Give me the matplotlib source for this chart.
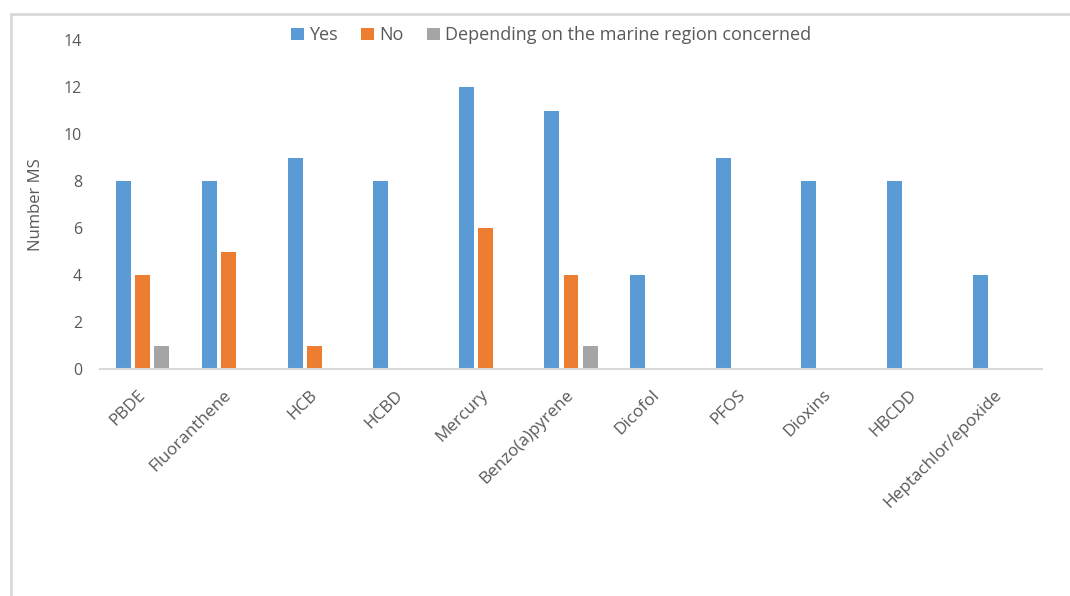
import matplotlib.pyplot as plt
import matplotlib.transforms as mtransforms
from matplotlib.lines import Line2D
import numpy as np

substances = ['PBDE', 'Fluoranthene', 'HCB', 'HCBD', 'Mercury', 'Benzo(a)pyrene',
              'Dicofol', 'PFOS', 'Dioxins', 'HBCDD', 'Heptachlor/epoxide']
yes = [8, 8, 9, 8, 12, 11, 4, 9, 8, 8, 4]
no = [4, 5, 1, 0, 6, 4, 0, 0, 0, 0, 0]
depending = [1, 0, 0, 0, 0, 1, 0, 0, 0, 0, 0]
series_names = ['Yes', 'No', 'Depending on the marine region concerned']
colors = ['#5b9bd5', '#ed7d31', '#a5a5a5']

plt.rcParams['font.family'] = ['Open Sans', 'DejaVu Sans']
txt = '#595959'

fig = plt.figure(figsize=(10.70, 5.96), dpi=100)
ax = fig.add_axes([100/1070, 1 - 369/596, 942/1070, 329/596])

# outer chart frame: only top and left edges are visible in the crop
fx, fy = 11/1070, 1 - 14/596
fig.lines.append(Line2D([fx, fx], [0, fy], transform=fig.transFigure, color='#d9d9d9', lw=2))
fig.lines.append(Line2D([fx, 1], [fy, fy], transform=fig.transFigure, color='#d9d9d9', lw=2))

x = np.arange(len(substances))
w = 0.175
step = 0.222
for i, (vals, name, c) in enumerate(zip([yes, no, depending], series_names, colors)):
    ax.bar(x + (i - 1) * step, vals, width=w, color=c, label=name, zorder=2)

ax.set_xlim(-0.5, len(substances) - 0.5)
ax.set_ylim(0, 14)
ax.set_yticks(range(0, 15, 2))
ax.set_xticks(x)
ax.set_xticklabels(substances, rotation=45, ha='right', va='top', rotation_mode='anchor')
ax.tick_params(axis='both', length=0, colors=txt)
ax.tick_params(axis='x', pad=13, labelsize=12.3)
ax.tick_params(axis='y', pad=13, labelsize=11.5)
shift = mtransforms.ScaledTranslation(-5/100, 0, fig.dpi_scale_trans)
for lab in ax.get_xticklabels():
    lab.set_transform(lab.get_transform() + shift)
for s in ['top', 'right', 'left']:
    ax.spines[s].set_visible(False)
ax.spines['bottom'].set_color('#d9d9d9')
ax.spines['bottom'].set_linewidth(1.5)

ax.set_ylabel('Number MS', fontsize=12, color=txt, labelpad=14)

ax.legend(loc='lower center', bbox_to_anchor=(0.479, 0.965), ncol=3, frameon=False,
          fontsize=13, handlelength=0.7, handleheight=0.7, handletextpad=0.3,
          columnspacing=1.3, labelcolor=txt, borderaxespad=0)

fig.savefig('out.png', dpi=100)
